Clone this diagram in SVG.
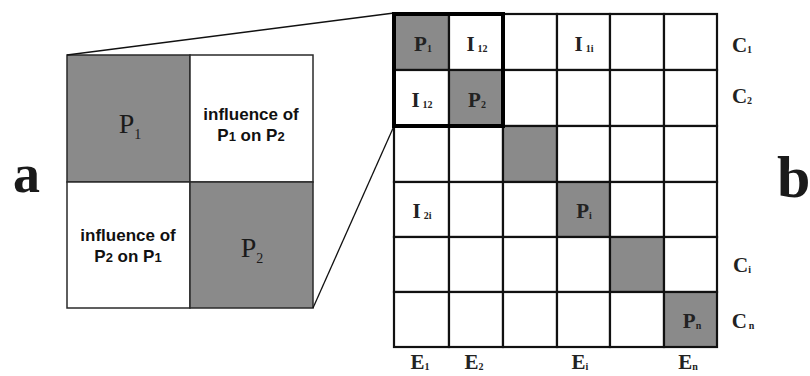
<svg xmlns="http://www.w3.org/2000/svg" width="810" height="376" viewBox="0 0 810 376">
<style>
.bg{fill:#fff}
.g{fill:#8a8a8a}
.w{fill:#fff}
.cellA{stroke:#2a2a2a;stroke-width:1.5}
.cellB{stroke:#111;stroke-width:2.2}
.thick{fill:none;stroke:#000;stroke-width:4}
.conn{stroke:#111;stroke-width:1.3;fill:none}
.sans{font-family:"Liberation Sans",Arial,sans-serif;font-weight:bold;font-size:17px;fill:#111;text-anchor:middle}
.serA{font-family:"Liberation Serif","Times New Roman",serif;font-size:28px;fill:#1a1a1a;text-anchor:middle}
.serB{font-family:"Liberation Serif","Times New Roman",serif;font-weight:bold;font-size:21px;fill:#222;text-anchor:middle}
.sub{font-size:10px}
.subA{font-size:14px}
.big{font-family:"Liberation Serif","Times New Roman",serif;font-weight:bold;fill:#1a1a1a}
</style>
<rect class="bg" x="0" y="0" width="810" height="376"/>

<g id="label-a"><text class="big" x="13" y="192" font-size="54">a</text></g>
<g id="label-b"><text class="big" x="777" y="197" font-size="60">b</text></g>

<g id="panel-a">
  <g id="a-p1"><rect class="g cellA" x="67" y="55" width="123" height="127"/><text class="serA" x="130" y="133">P<tspan class="subA" dy="6">1</tspan></text></g>
  <g id="a-i12"><rect class="w cellA" x="190" y="55" width="123" height="127"/><text class="sans" x="251" y="120">influence of</text><text class="sans" x="251" y="141">P<tspan font-size="13">1</tspan> on P<tspan font-size="13">2</tspan></text></g>
  <g id="a-i21"><rect class="w cellA" x="67" y="182" width="123" height="126"/><text class="sans" x="128" y="241">influence of</text><text class="sans" x="128" y="262">P<tspan font-size="13">2</tspan> on P<tspan font-size="13">1</tspan></text></g>
  <g id="a-p2"><rect class="g cellA" x="190" y="182" width="123" height="126"/><text class="serA" x="252" y="257">P<tspan class="subA" dy="6">2</tspan></text></g>
</g>

<g id="connectors">
  <line class="conn" x1="67" y1="55" x2="394" y2="13"/>
  <line class="conn" x1="313" y1="308" x2="394" y2="126"/>
</g>

<g id="panel-b">
  <g id="grid-cells">
    <rect class="g cellB" x="394" y="14" width="55" height="56"/>
    <rect class="w cellB" x="449" y="14" width="54" height="56"/>
    <rect class="w cellB" x="503" y="14" width="54" height="56"/>
    <rect class="w cellB" x="557" y="14" width="53" height="56"/>
    <rect class="w cellB" x="610" y="14" width="54" height="56"/>
    <rect class="w cellB" x="664" y="14" width="53" height="56"/>

    <rect class="w cellB" x="394" y="70" width="55" height="56"/>
    <rect class="g cellB" x="449" y="70" width="54" height="56"/>
    <rect class="w cellB" x="503" y="70" width="54" height="56"/>
    <rect class="w cellB" x="557" y="70" width="53" height="56"/>
    <rect class="w cellB" x="610" y="70" width="54" height="56"/>
    <rect class="w cellB" x="664" y="70" width="53" height="56"/>

    <rect class="w cellB" x="394" y="126" width="55" height="56"/>
    <rect class="w cellB" x="449" y="126" width="54" height="56"/>
    <rect class="g cellB" x="503" y="126" width="54" height="56"/>
    <rect class="w cellB" x="557" y="126" width="53" height="56"/>
    <rect class="w cellB" x="610" y="126" width="54" height="56"/>
    <rect class="w cellB" x="664" y="126" width="53" height="56"/>

    <rect class="w cellB" x="394" y="182" width="55" height="55"/>
    <rect class="w cellB" x="449" y="182" width="54" height="55"/>
    <rect class="w cellB" x="503" y="182" width="54" height="55"/>
    <rect class="g cellB" x="557" y="182" width="53" height="55"/>
    <rect class="w cellB" x="610" y="182" width="54" height="55"/>
    <rect class="w cellB" x="664" y="182" width="53" height="55"/>

    <rect class="w cellB" x="394" y="237" width="55" height="55"/>
    <rect class="w cellB" x="449" y="237" width="54" height="55"/>
    <rect class="w cellB" x="503" y="237" width="54" height="55"/>
    <rect class="w cellB" x="557" y="237" width="53" height="55"/>
    <rect class="g cellB" x="610" y="237" width="54" height="55"/>
    <rect class="w cellB" x="664" y="237" width="53" height="55"/>

    <rect class="w cellB" x="394" y="292" width="55" height="55"/>
    <rect class="w cellB" x="449" y="292" width="54" height="55"/>
    <rect class="w cellB" x="503" y="292" width="54" height="55"/>
    <rect class="w cellB" x="557" y="292" width="53" height="55"/>
    <rect class="w cellB" x="610" y="292" width="54" height="55"/>
    <rect class="g cellB" x="664" y="292" width="53" height="55"/>
  </g>
  <rect id="highlight" class="thick" x="394" y="14" width="109" height="112"/>

  <g id="b-labels">
    <text class="serB" x="423" y="51">P<tspan class="sub" dy="1">1</tspan></text>
    <text class="serB" x="477" y="51">I<tspan class="sub" dx="3" dy="1">12</tspan></text>
    <text class="serB" x="584" y="51">I<tspan class="sub" dx="3" dy="1">1i</tspan></text>
    <text class="serB" x="422" y="107">I<tspan class="sub" dx="3" dy="1">12</tspan></text>
    <text class="serB" x="477" y="107">P<tspan class="sub" dy="1">2</tspan></text>
    <text class="serB" x="422" y="218">I<tspan class="sub" dx="3" dy="1">2i</tspan></text>
    <text class="serB" x="584" y="218">P<tspan class="sub" dy="1">i</tspan></text>
    <text class="serB" x="692" y="328">P<tspan class="sub" dy="1">n</tspan></text>
  </g>
  <g id="row-labels">
    <text class="serB" x="742" y="52">C<tspan class="sub" dy="1">1</tspan></text>
    <text class="serB" x="742" y="103">C<tspan class="sub" dy="1">2</tspan></text>
    <text class="serB" x="742" y="272">C<tspan class="sub" dy="1">i</tspan></text>
    <text class="serB" x="743" y="328">C<tspan class="sub" dx="2" dy="1">n</tspan></text>
  </g>
  <g id="col-labels">
    <text class="serB" x="420" y="369">E<tspan class="sub" dy="1">1</tspan></text>
    <text class="serB" x="474" y="369">E<tspan class="sub" dy="1">2</tspan></text>
    <text class="serB" x="580" y="369">E<tspan class="sub" dy="1">i</tspan></text>
    <text class="serB" x="688" y="369">E<tspan class="sub" dy="1">n</tspan></text>
  </g>
</g>
</svg>
